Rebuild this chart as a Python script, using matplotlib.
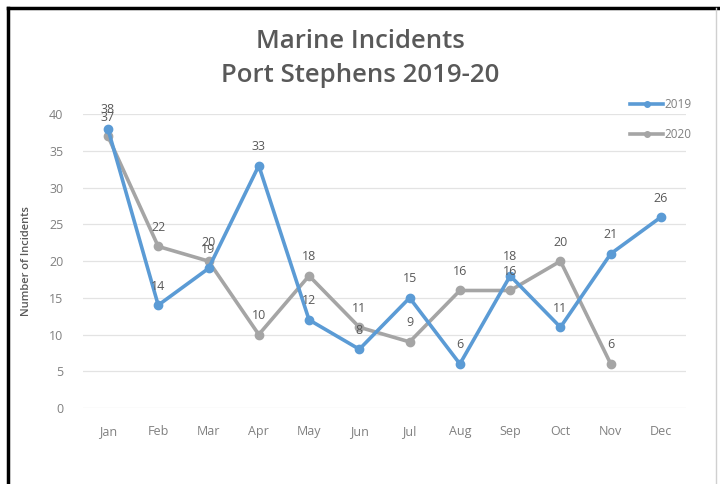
import numpy as np
import matplotlib.pyplot as plt
from matplotlib.lines import Line2D

months = ['Jan', 'Feb', 'Mar', 'Apr', 'May', 'Jun', 'Jul', 'Aug', 'Sep', 'Oct', 'Nov', 'Dec']
incidents_2019 = [38, 14, 19, 33, 12, 8, 15, 6, 18, 11, 21, 26]
incidents_2020 = [37, 22, 20, 10, 18, 11, 9, 16, 16, 20, 6]

blue = '#5B9BD5'
grey = '#A5A5A5'
txt = '#595959'

plt.rcParams['font.family'] = ['Open Sans', 'DejaVu Sans']

fig = plt.figure(figsize=(7.2, 4.84), dpi=100)
ax = fig.add_axes([0.115, 0.157, 0.838, 0.607])

x = np.arange(len(months))
ax.plot(x, incidents_2019, color=blue, lw=2.6, marker='o', ms=6, label='2019', zorder=3)
ax.plot(x[:len(incidents_2020)], incidents_2020, color=grey, lw=2.6, marker='o', ms=6,
        label='2020', zorder=2)

for xi, v in zip(x, incidents_2019):
    ax.annotate(str(v), (xi, v), xytext=(0, 9), textcoords='offset points',
                ha='center', va='bottom', fontsize=9, color=txt, zorder=5)
for xi, v in zip(x, incidents_2020):
    ax.annotate(str(v), (xi, v), xytext=(0, 9), textcoords='offset points',
                ha='center', va='bottom', fontsize=9, color=txt, zorder=5)

ax.set_xlim(-0.5, len(months) - 0.5)
ax.set_ylim(0, 40)
ax.set_yticks(range(0, 41, 5))
ax.set_xticks(x)
ax.set_xticklabels(months)
ax.tick_params(length=0, colors='#808080', labelsize=9, pad=12)
ax.tick_params(axis='y', pad=14)
ax.grid(axis='y', color='#E3E3E3', lw=0.9)
ax.set_axisbelow(True)
for s in ax.spines.values():
    s.set_visible(False)

ax.set_ylabel('Number of Incidents', fontsize=8, color=txt, labelpad=12, fontweight='semibold')

fig.text(0.5, 0.915, 'Marine Incidents', ha='center', va='center',
         fontsize=18.5, fontweight='semibold', color=txt)
fig.text(0.5, 0.845, 'Port Stephens 2019-20', ha='center', va='center',
         fontsize=18.5, fontweight='semibold', color=txt)

handles = [Line2D([], [], color=blue, lw=2.6, marker='o', ms=4),
           Line2D([], [], color=grey, lw=2.6, marker='o', ms=4)]
fig.legend(handles, ['2019', '2020'], loc='upper right', bbox_to_anchor=(0.975, 0.82),
           frameon=False, fontsize=8.5, labelcolor='#808080', handlelength=2.8,
           handletextpad=0.1, labelspacing=1.5)

# frame around the picture
fig.add_artist(Line2D([0.011, 0.011], [0, 0.984], color='black', lw=2.5, transform=fig.transFigure))
fig.add_artist(Line2D([0.011, 1], [0.984, 0.984], color='black', lw=2.5, transform=fig.transFigure))
fig.add_artist(Line2D([0.994, 0.994], [0, 0.984], color='#D0D0D0', lw=1, transform=fig.transFigure))

fig.savefig('out.png', dpi=100)
